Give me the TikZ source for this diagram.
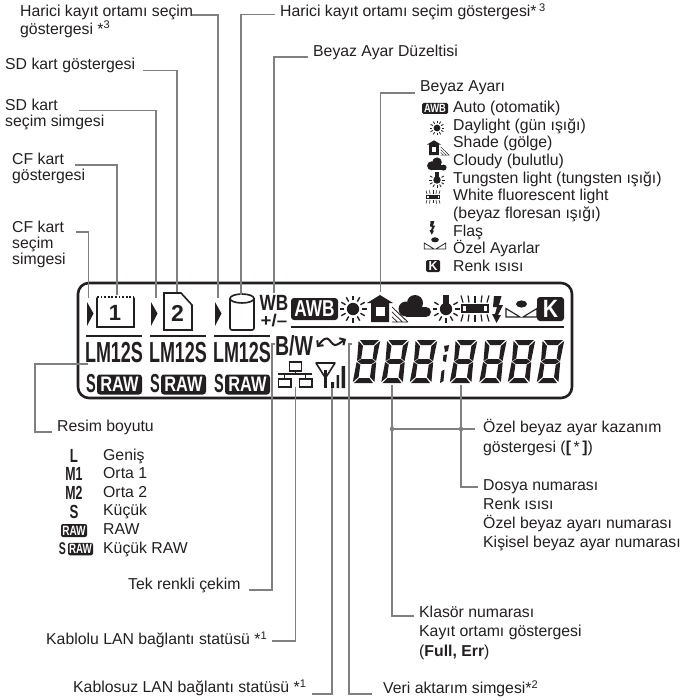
\documentclass[tikz,border=0pt]{standalone}
\usepackage{fontspec}
\usepackage{graphicx}
\setmainfont{Liberation Sans}
\usetikzlibrary{arrows.meta}
\definecolor{ink}{HTML}{231F20}
\definecolor{leader}{HTML}{808080}
\newcommand{\cond}[3]{{\fontsize{#1}{#1}\selectfont\bfseries\scalebox{#2}[1]{#3}}}
\tikzset{
  lab/.style={anchor=west,inner sep=0pt,align=left,text=ink,font=\fontsize{15.8}{#1}\selectfont},
  lab/.default=17.6,
  lead/.style={draw=leader,line width=1.1pt,line join=miter},
  dotmark/.style={circle,fill=leader,inner sep=0pt,minimum size=4.6pt},
  black box/.style={fill=ink,text=white,rounded corners=#1,inner sep=0pt},
  black box/.default=2.5pt,
  sym/.style={inner sep=0pt,text=ink},
  thin ink/.style={draw=ink,line width=#1,line cap=round},
  thin ink/.default=1.6pt
}
% icons: origin at centre, #1 = scale, line widths follow
\newcommand{\iconSun}[1]{\fill[ink] (0,0) circle (6.2);
  \foreach \a in {0,30,...,330}{\draw[ink,line width=#1*1.4pt] (\a:8.6) -- (\a:13.5);}}
\newcommand{\iconHouse}[1]{\fill[ink] (0,-14) -- (13,-6) -- (9,-6) -- (9,13) -- (-9,13) -- (-9,-6) -- (-13,-6) -- cycle;
  \fill[white] (-4.5,-2) rectangle (4.5,7);
  \draw[ink,line width=#1*0.7pt] (12,-2) -- (28,13) (12,13) -- (28,13) (12,3) -- (22.5,13) (12,8) -- (17.5,13) (16,2) -- (25.5,11);}
\newcommand{\iconCloud}[1]{\fill[ink] (0,-3) circle (8);\fill[ink] (-9,3) circle (7.5);\fill[ink] (11,6) circle (5);\fill[ink] (-9,1) rectangle (11,10.7);}
\newcommand{\iconTungsten}[1]{\fill[ink] (0,0) circle (6.2);\fill[ink] (-2.6,-14) rectangle (2.6,-3);
  \foreach \a in {-30,0,30,60,90,120,150,180,210}{\draw[ink,line width=#1*1.4pt] (\a:8.6) -- (\a:13.5);}}
\newcommand{\iconTube}[1]{\draw[ink,line width=#1*1.2pt] (-13,-3.5) rectangle (13,3.5);
  \fill[ink] (-9,-3.5) rectangle (9,3.5);
  \foreach \p/\q in {-12/-14,-6/-7,0/0,6/7,12/14}{\draw[ink,line width=#1*1.2pt] (\p,-6) -- (\q,-13) (\p,6) -- (\q,13);}}
\newcommand{\iconFlash}[1]{\fill[ink] (-3,-13.5) -- (4.5,-13.5) -- (2,-4.5) -- (6,-4.5) -- (1,5.5) -- (4,5.5) -- (-0.5,13.5) -- (-5,4.5) -- (-2,4.5) -- (0,-2.5) -- (-4,-2.5) -- cycle;}
\newcommand{\iconCustom}[1]{\fill[ink] (0,-6) ellipse (5.5 and 3.6);
  \draw[ink,line width=#1*1.1pt] (-15.5,-1.5) -- (-15.5,7) -- (-1.5,7) -- cycle (15.5,-1.5) -- (15.5,7) -- (1.5,7) -- cycle;}
\newcommand{\sevenseg}[1]{\begin{scope}[shift={(#1+6,340)},xslant=0.14]
  \fill[ink] (1,0) -- (20,0) -- (15.6,5) -- (5.4,5) -- cycle
    (1,43) -- (20,43) -- (15.6,38) -- (5.4,38) -- cycle
    (1.6,21.5) -- (5,19.2) -- (16,19.2) -- (19.4,21.5) -- (16,23.8) -- (5,23.8) -- cycle
    (-0.3,1) -- (4.8,6) -- (4.8,18.4) -- (1,21) -- cycle
    (21.3,1) -- (16.2,6) -- (16.2,18.4) -- (20,21) -- cycle
    (0.7,22) -- (4.8,24.7) -- (4.8,37) -- (-0.3,42) -- cycle
    (20.3,22) -- (16.2,24.7) -- (16.2,37) -- (21.3,42) -- cycle;
\end{scope}}
\begin{document}
\begin{tikzpicture}[x=1pt,y=-1pt]
\useasboundingbox (0,0) rectangle (688,700);

% ---------- LCD panel ----------
\draw[ink,line width=2.6pt,rounded corners=11pt] (78,283) rectangle (572,398);

% selector triangles
\foreach \x in {87,151,215}{\fill[ink] (\x,302) -- (\x+6.5,313.5) -- (\x,326) -- cycle;}

% CF card
\draw[thin ink] (97,298) -- (97,327) -- (134,327) -- (134,298);
\draw[ink,line width=1.6pt,dash pattern=on 1.8pt off 1.8pt] (97,297) -- (134,297);
\node[sym] (cfnum) at (115,313) {\cond{22}{1}{1}};
% SD card
\draw[thin ink] (164,293) -- (181,293) -- (192,305) -- (192,330) -- (164,330) -- cycle;
\node[sym] (sdnum) at (177.5,313) {\cond{23}{1}{2}};
% external media cylinder
\draw[thin ink] (230,298.5) -- (230,328) arc[start angle=180,end angle=90,radius=2] -- (252,330) arc[start angle=90,end angle=0,radius=2] -- (254,298.5);
\draw[thin ink] (242,298.5) ellipse (12 and 4.5);
% WB +/-
\node[sym] (wb) at (274,302.5) {\cond{22}{0.78}{WB}};
\node[sym] (wbpm) at (274,320.5) {\cond{17}{1.1}{+/–}};
% AWB, K
\node[black box=3pt,minimum width=47pt,minimum height=22pt] (awb) at (314.5,309) {\cond{23}{0.75}{AWB}};
\node[black box=3pt,minimum width=27pt,minimum height=24pt] (kbox) at (550.5,309) {\cond{25}{0.85}{K}};
% weather icons
\begin{scope}[shift={(353,309)}]\iconSun{1}\end{scope}
\begin{scope}[shift={(380,309)}]\iconHouse{1}\end{scope}
\begin{scope}[shift={(415,306)}]\iconCloud{1}\end{scope}
\begin{scope}[shift={(446,309)}]\iconTungsten{1}\end{scope}
\begin{scope}[shift={(475,308.5)}]\iconTube{1}\end{scope}
\begin{scope}[shift={(497,309.5)}]\iconFlash{1}\end{scope}
\begin{scope}[shift={(521.5,310)}]\iconCustom{1}\end{scope}
% separators
\draw[ink,line width=1.8pt] (291,327) -- (564,327);
\foreach \x in {86,150,214}{\draw[ink,line width=1.1pt] (\x,336) -- (\x+56,336);}
% LM12S / S RAW
\node[sym] (lma) at (114,352.5) {\cond{29}{0.62}{LM12S}};
\node[sym] (lmb) at (178,352.5) {\cond{29}{0.62}{LM12S}};
\node[sym] (lmc) at (242,352.5) {\cond{29}{0.62}{LM12S}};
\node[sym] (sa) at (91,384) {\cond{26}{0.56}{S}};
\node[sym] (sb) at (155,384) {\cond{26}{0.56}{S}};
\node[sym] (sc) at (219,384) {\cond{26}{0.56}{S}};
\node[black box=3pt,minimum width=45pt,minimum height=20pt] (rawa) at (119.5,384.5) {\cond{21}{0.78}{RAW}};
\node[black box=3pt,minimum width=45pt,minimum height=20pt] (rawb) at (183.5,384.5) {\cond{21}{0.78}{RAW}};
\node[black box=3pt,minimum width=45pt,minimum height=20pt] (rawc) at (247.5,384.5) {\cond{21}{0.78}{RAW}};
% B/W
\node[sym] (bw) at (294,345.5) {\cond{27.5}{0.71}{B/W}};
% transfer wave
\draw[ink,line width=2pt,{Straight Barb[length=4pt,width=8pt]}-{Straight Barb[length=4pt,width=8pt]}] (317,347) .. controls (321,342) and (324,338) .. (327,338.5) .. controls (330,339) and (332,345) .. (335,345) .. controls (338,345) and (341,342) .. (346,339);
% LAN icon
\draw[ink,line width=1.5pt] (289.5,362) rectangle (301.5,371) (295.5,371) -- (295.5,374) (278,374) -- (312,374) (284.5,374) -- (284.5,379) (305.5,374) -- (305.5,379) (278.5,379) rectangle (291,387) (299.5,379) rectangle (312,387);
% antenna
\draw[ink,line width=1.6pt,line join=round] (316,363) -- (335,363) -- (325.5,378) -- cycle;
\draw[ink,line width=2.2pt] (325.5,370) -- (325.5,388);
\fill[ink] (331,382) rectangle (334,388) (336.5,375) rectangle (339,388) (341.5,366) rectangle (345,388);
% seven-segment digits
\foreach \x in {353,381.5,410,450,479.5,508,537}{\sevenseg{\x}}
\fill[ink] (444,346) -- (449,345) -- (448,351) -- (445,352) -- cycle
  (443.5,355) -- (447,354.5) -- (446,362) -- (442.8,361) -- cycle
  (441.5,371) -- (444.5,369.5) -- (443.5,381) -- (440,383) -- cycle;

% ---------- labels ----------
\node[lab=18] (hari) at (20,21) {Harici kayıt ortamı seçim\\göstergesi *\textsuperscript{3}};
\node[lab] (harib) at (280,12) {Harici kayıt ortamı seçim göstergesi*\,\textsuperscript{3}};
\node[lab] (beyd) at (313,52) {Beyaz Ayar Düzeltisi};
\node[lab] (sdg) at (5,65) {SD kart göstergesi};
\node[lab=16] (sds) at (5,114) {SD kart\\seçim simgesi};
\node[lab=16] (cfg) at (12,168) {CF kart\\göstergesi};
\node[lab=16] (cfs) at (12,244) {CF kart\\seçim\\simgesi};
\node[lab] (beya) at (420,88) {Beyaz Ayarı};
\node[lab=17.67] (wblist) at (453,186.5) {Auto (otomatik)\\Daylight (gün ışığı)\\Shade (gölge)\\Cloudy (bulutlu)\\Tungsten light (tungsten ışığı)\\White fluorescent light\\(beyaz floresan ışığı)\\Flaş\\Özel Ayarlar\\Renk ısısı};
\node[lab] (resim) at (57,427) {Resim boyutu};
\node[lab=18.6] (sizes) at (103,502.5) {Geniş\\Orta 1\\Orta 2\\Küçük\\RAW\\Küçük RAW};
\node[lab] (tek) at (128,585) {Tek renkli çekim};
\node[lab] (kablolu) at (46,640) {Kablolu LAN bağlantı statüsü *\textsuperscript{1}};
\node[lab] (kablosuz) at (73,688) {Kablosuz LAN bağlantı statüsü *\textsuperscript{1}};
\node[lab] (veri) at (383,689) {Veri aktarım simgesi*\textsuperscript{2}};
\node[lab=20] (ozel) at (483,438) {Özel beyaz ayar kazanım\\göstergesi ({\bfseries[}\,*\,{\bfseries]})};
\node[lab=19] (dosya) at (483,515.5) {Dosya numarası\\Renk ısısı\\Özel beyaz ayarı numarası\\Kişisel beyaz ayar numarası};
\node[lab=19.5] (klasor) at (419,632.5) {Klasör numarası\\Kayıt ortamı göstergesi\\(\textbf{Full, Err})};

% white balance list icons
\node[black box=1.5pt,minimum width=26pt,minimum height=11pt] (awbs) at (435,108.5) {\cond{12}{0.78}{AWB}};
\begin{scope}[shift={(437,128)},scale=0.55]\iconSun{0.55}\end{scope}
\begin{scope}[shift={(434,148)},scale=0.55]\iconHouse{0.55}\end{scope}
\begin{scope}[shift={(437,164)},scale=0.6]\iconCloud{0.6}\end{scope}
\begin{scope}[shift={(437,180)},scale=0.6]\iconTungsten{0.6}\end{scope}
\begin{scope}[shift={(433,197)},scale=0.5]\iconTube{0.5}\end{scope}
\begin{scope}[shift={(432,228)},scale=0.5]\iconFlash{0.5}\end{scope}
\begin{scope}[shift={(435,244)},scale=0.7]\iconCustom{0.7}\end{scope}
\node[black box=1.5pt,minimum width=14pt,minimum height=12pt] (ks) at (433,266) {\cond{13}{0.95}{K}};

% image size icons
\node[sym] (il) at (74,456) {\cond{19}{0.7}{L}};
\node[sym] (im) at (74,474) {\cond{19}{0.65}{M1}};
\node[sym] (in) at (74,493) {\cond{19}{0.65}{M2}};
\node[sym] (is) at (74,512) {\cond{19}{0.7}{S}};
\node[black box=2pt,minimum width=26pt,minimum height=13pt] (ir) at (74,530.5) {\cond{13.5}{0.74}{RAW}};
\node[sym] (iss) at (62.5,549) {\cond{17}{0.62}{S}};
\node[black box=2pt,minimum width=25pt,minimum height=12.5pt] (irs) at (80.5,549) {\cond{13.5}{0.72}{RAW}};

% ---------- connectors ----------
\coordinate (a1) at (192,15);   \coordinate (t1) at (218,298);
\coordinate (a2) at (275,14.5); \coordinate (t2) at (241,295);
\coordinate (a3) at (308,57);   \coordinate (t3) at (274,293);
\coordinate (a4) at (143,70.5); \coordinate (t4) at (177,292);
\coordinate (a5) at (79,110.5); \coordinate (t5) at (156,298);
\coordinate (a6) at (75,165);   \coordinate (t6) at (117,295);
\coordinate (a7) at (76,232);   \coordinate (t7) at (88.5,298);
\coordinate (a8) at (415,93);   \coordinate (t8) at (380.5,292);
\coordinate (a9) at (88,364);   \coordinate (t9) at (52,432);
\coordinate (a10) at (249,590); \coordinate (t10) at (275,344);
\coordinate (a11) at (272,641); \coordinate (t11) at (295.5,387);
\coordinate (a12) at (312,694); \coordinate (t12) at (332,388);
\coordinate (a13) at (372,694); \coordinate (t13) at (352,344);
\coordinate (a14) at (478,487); \coordinate (t14) at (461,385);
\coordinate (a15) at (414,616); \coordinate (t15) at (392,385);
\coordinate (a16) at (475,429);

\draw[lead] (a1) -| (t1);
\draw[lead] (a2) -| (t2);
\draw[lead] (a3) -| (t3);
\draw[lead] (a4) -| (t4);
\draw[lead] (a5) -| (t5);
\draw[lead] (a6) -| (t6);
\draw[lead] (a7) -| (t7);
\draw[lead] (a8) -| (t8);
\draw[lead] (a9) -| (35,432) -- (t9);
\draw[lead] (a10) -| (272,344) -- (t10);
\draw[lead] (a11) -| (t11);
\draw[lead] (a12) -| (t12);
\draw[lead] (a13) -| (349,344) -- (t13);
\draw[lead] (a14) -| (t14);
\draw[lead] (a15) -| (t15);
\node[dotmark] (d1) at (392,429) {};
\node[dotmark] (d2) at (461,429) {};
\draw[lead] (d1.center) -- (a16);
\end{tikzpicture}
\end{document}
